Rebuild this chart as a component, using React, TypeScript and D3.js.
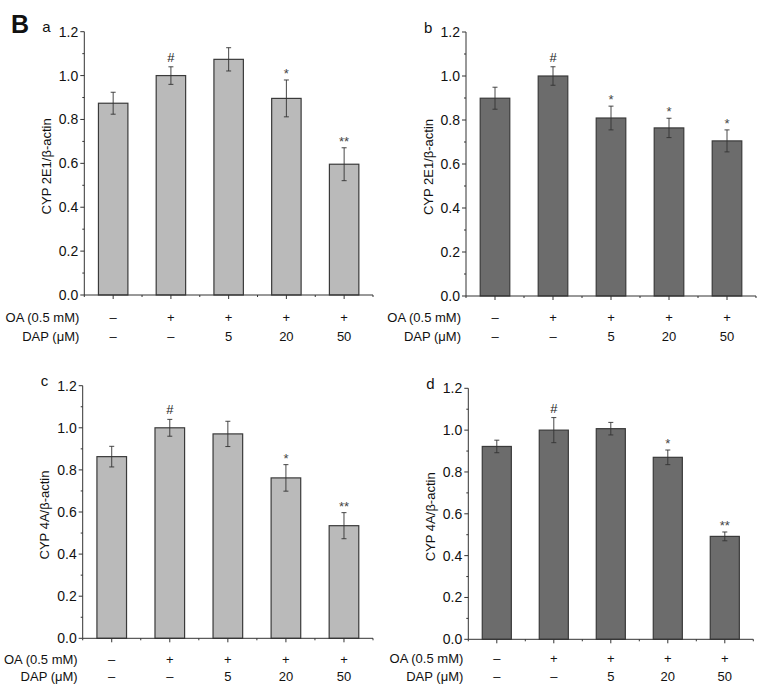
import React from "react";
import * as d3 from "d3";

const oaLabels = ["\u2013", "+", "+", "+", "+"];
const dapLabels = ["\u2013", "\u2013", "5", "20", "50"];
const yTicks = [0, 0.2, 0.4, 0.6, 0.8, 1.0, 1.2];

const aValues = [0.874, 1.0, 1.074, 0.896, 0.596];
const aErrors = [0.05, 0.04, 0.053, 0.084, 0.075];
const aMarks = ["", "#", "", "*", "**"];

const bValues = [0.899, 1.0, 0.809, 0.764, 0.705];
const bErrors = [0.05, 0.042, 0.054, 0.044, 0.05];
const bMarks = ["", "#", "*", "*", "*"];

const cValues = [0.863, 1.0, 0.971, 0.762, 0.535];
const cErrors = [0.049, 0.04, 0.06, 0.063, 0.062];
const cMarks = ["", "#", "", "*", "**"];

const dValues = [0.922, 1.0, 1.007, 0.87, 0.492];
const dErrors = [0.03, 0.06, 0.03, 0.035, 0.021];
const dMarks = ["", "#", "", "*", "**"];

const LIGHT = "#bababa";
const DARK = "#6c6c6c";
const FONT = "Liberation Sans, Arial, sans-serif";

type PanelProps = {
  letter: string;
  ylabel: string;
  values: number[];
  errors: number[];
  marks: string[];
  fill: string;
  x0: number;
  x1: number;
  yBottom: number;
  yTop: number;
  oaDy: number;
  dapDy: number;
};

function Panel(p: PanelProps) {
  const x = d3.scaleLinear().domain([0.5, 5.5]).range([p.x0, p.x1]);
  const y = d3.scaleLinear().domain([0, 1.2]).range([p.yBottom, p.yTop]);
  const bw = (x(1) - x(0.5)) * 1.02;
  const minorY = d3.range(0, 13).map((i) => i * 0.1);
  const majorX = d3.range(1, 6);
  const minorX = d3.range(0, 6).map((i) => i + 0.5);
  const midY = (p.yBottom + p.yTop) / 2 + 3;
  const axisColor = "#333";
  return (
    <g fontFamily={FONT}>
      {p.values.map((v, i) => (
        <rect
          key={"b" + i}
          x={x(i + 1) - bw / 2}
          y={y(v)}
          width={bw}
          height={y(0) - y(v)}
          fill={p.fill}
          stroke="#3a3a3a"
          strokeWidth={1.2}
        />
      ))}
      {p.values.map((v, i) => {
        const cx = x(i + 1);
        const t = y(v + p.errors[i]);
        const b = y(v - p.errors[i]);
        return (
          <g key={"e" + i} stroke="#333" strokeWidth={0.9}>
            <line x1={cx} x2={cx} y1={t} y2={b} />
            <line x1={cx - 2.5} x2={cx + 2.5} y1={t} y2={t} />
            <line x1={cx - 2.5} x2={cx + 2.5} y1={b} y2={b} />
          </g>
        );
      })}
      {p.marks.map((m, i) =>
        m ? (
          <text
            key={"m" + i}
            x={x(i + 1)}
            y={y(p.values[i] + p.errors[i]) - (m === "#" ? 5 : 2)}
            textAnchor="middle"
            fontSize={13}
            fill={m === "#" ? "#222" : "#444"}
          >
            {m}
          </text>
        ) : null
      )}
      {/* y axis */}
      <line x1={p.x0} x2={p.x0} y1={p.yBottom} y2={p.yTop} stroke={axisColor} strokeWidth={1} />
      {minorY.map((t, i) => (
        <line
          key={"my" + i}
          x1={p.x0}
          x2={p.x0 - (i % 2 === 0 ? 4 : 2)}
          y1={y(t)}
          y2={y(t)}
          stroke={axisColor}
          strokeWidth={1}
        />
      ))}
      {yTicks.map((t) => (
        <text
          key={"yt" + t}
          x={p.x0 - 6}
          y={y(t)}
          textAnchor="end"
          dominantBaseline="central"
          fontSize={14}
          fill="#111"
        >
          {t.toFixed(1)}
        </text>
      ))}
      {/* x axis */}
      <line x1={p.x0} x2={p.x1} y1={p.yBottom} y2={p.yBottom} stroke={axisColor} strokeWidth={1} />
      {majorX.map((t) => (
        <line key={"mx" + t} x1={x(t)} x2={x(t)} y1={p.yBottom} y2={p.yBottom + 4} stroke={axisColor} />
      ))}
      {minorX.map((t) => (
        <line key={"nx" + t} x1={x(t)} x2={x(t)} y1={p.yBottom} y2={p.yBottom + 2} stroke={axisColor} />
      ))}
      {/* y label */}
      <text
        transform={`translate(${p.x0 - 38},${midY}) rotate(-90)`}
        textAnchor="middle"
        dominantBaseline="central"
        fontSize={13}
        fill="#111"
      >
        {p.ylabel}
      </text>
      {/* panel letter */}
      <text x={p.x0 - 42} y={p.yTop - 5} dominantBaseline="central" fontSize={15} fill="#111">
        {p.letter}
      </text>
      {/* row labels */}
      <text x={p.x0 - 5} y={p.yBottom + p.oaDy} textAnchor="end" dominantBaseline="central" fontSize={13} fill="#111">
        OA (0.5 mM)
      </text>
      <text x={p.x0 - 5} y={p.yBottom + p.dapDy} textAnchor="end" dominantBaseline="central" fontSize={13} fill="#111">
        DAP (μM)
      </text>
      {oaLabels.map((l, i) => (
        <text
          key={"oa" + i}
          x={x(i + 1)}
          y={p.yBottom + p.oaDy}
          textAnchor="middle"
          dominantBaseline="central"
          fontSize={13}
          fill="#111"
        >
          {l}
        </text>
      ))}
      {dapLabels.map((l, i) => (
        <text
          key={"dap" + i}
          x={x(i + 1)}
          y={p.yBottom + p.dapDy}
          textAnchor="middle"
          dominantBaseline="central"
          fontSize={13}
          fill="#111"
        >
          {l}
        </text>
      ))}
    </g>
  );
}

export default function App() {
  return (
    <svg
      width={765}
      height={689}
      style={{ position: "absolute", left: 0, top: 0, background: "#fff" }}
    >
      <rect x={0} y={0} width={765} height={689} fill="#fff" />
      <text x={11} y={24} dominantBaseline="central" fontSize={25} fontWeight="bold" fontFamily={FONT} fill="#111">
        B
      </text>
      <Panel
        letter="a"
        ylabel="CYP 2E1/β-actin"
        values={aValues}
        errors={aErrors}
        marks={aMarks}
        fill={LIGHT}
        x0={84.3}
        x1={373}
        yBottom={295}
        yTop={31.7}
        oaDy={22}
        dapDy={41}
      />
      <Panel
        letter="b"
        ylabel="CYP 2E1/β-actin"
        values={bValues}
        errors={bErrors}
        marks={bMarks}
        fill={DARK}
        x0={466}
        x1={756}
        yBottom={296}
        yTop={32}
        oaDy={21}
        dapDy={40}
      />
      <Panel
        letter="c"
        ylabel="CYP 4A/β-actin"
        values={cValues}
        errors={cErrors}
        marks={cMarks}
        fill={LIGHT}
        x0={82.7}
        x1={373}
        yBottom={638.3}
        yTop={385.7}
        oaDy={21}
        dapDy={38}
      />
      <Panel
        letter="d"
        ylabel="CYP 4A/β-actin"
        values={dValues}
        errors={dErrors}
        marks={dMarks}
        fill={DARK}
        x0={468.3}
        x1={753.3}
        yBottom={639.3}
        yTop={388.3}
        oaDy={19}
        dapDy={37}
      />
    </svg>
  );
}
